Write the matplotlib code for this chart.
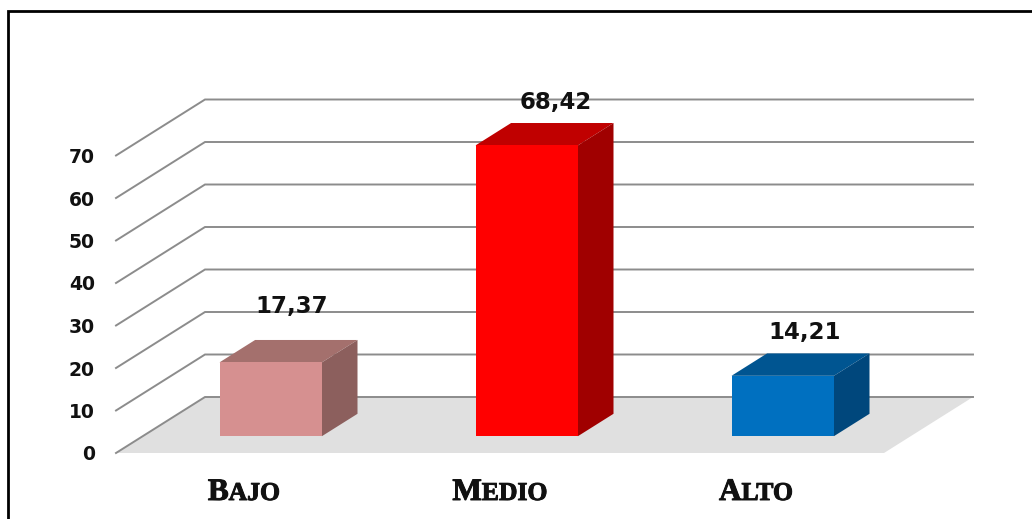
import matplotlib
matplotlib.use('Agg')
import matplotlib.pyplot as plt
import matplotlib.patheffects as pe
from matplotlib.lines import Line2D
from matplotlib.patches import Polygon

categories = ['Bajo', 'Medio', 'Alto']
values = [17.37, 68.42, 14.21]
value_labels = ['17,37', '68,42', '14,21']
ticks = [0, 10, 20, 30, 40, 50, 60, 70]

front_colors = ['#D69090', '#FF0000', '#0070C0']
top_colors = ['#A4706D', '#C00000', '#005591']
side_colors = ['#8C5F5D', '#A00000', '#00477C']

# pixel nudges for the value labels, measured from the top back edge of each bar
label_dx = [-15, -7, -14]
label_dy = [22, 9, 9]

W, H = 1032, 519
PX_X = 256.0      # pixels per category
PX_Y = 4.25       # pixels per unit of value
X0, Y0 = 116, 453  # front corner of the floor
DEPTH_X, DEPTH_Y = 89, 56  # on-screen shift from front to back wall
BAR_W = 0.4
BAR_D0, BAR_D1 = 0.30, 0.70

fig = plt.figure(figsize=(W / 100, H / 100), dpi=100)
ax = fig.add_axes([0, 0, 1, 1])
# front plane of the box: x in categories, y in value units
ax.set_xlim(-0.5 - X0 / PX_X, -0.5 + (W - X0) / PX_X)
ax.set_ylim(-(H - Y0) / PX_Y, Y0 / PX_Y)
ax.axis('off')


def proj(x, v, d=0.0):
    # oblique projection, d is depth from front (0) to back wall (1)
    return x + d * DEPTH_X / PX_X, v + d * DEPTH_Y / PX_Y


def poly(points, **kw):
    ax.add_patch(Polygon([proj(*p) for p in points], closed=True, **kw))


x_lo, x_hi = -0.5, len(categories) - 0.5

# floor
poly([(x_lo, 0, 0), (x_lo, 0, 1), (x_hi, 0, 1), (x_hi, 0, 0)],
     facecolor='#E0E0E0', edgecolor='none', zorder=1)

# gridlines along side wall and back wall
for t in ticks:
    pts = [proj(x_lo, t, 0), proj(x_lo, t, 1), proj(x_hi, t, 1)]
    ax.plot([p[0] for p in pts], [p[1] for p in pts], color='#8C8C8C', lw=1.4,
            solid_joinstyle='miter', zorder=2)
    tx, ty = proj(x_lo - 0.09 + 2 / PX_X, t)
    ax.text(tx, ty - 2 / PX_Y, str(t), ha='right', va='center', fontsize=13.5,
            fontweight='bold', color='#111111', zorder=5)

# bars
for i, v in enumerate(values):
    l, r = i - BAR_W / 2, i + BAR_W / 2
    poly([(l, v, BAR_D0), (l, v, BAR_D1), (r, v, BAR_D1), (r, v, BAR_D0)],
         facecolor=top_colors[i], edgecolor='none', zorder=3)
    poly([(r, 0, BAR_D0), (r, 0, BAR_D1), (r, v, BAR_D1), (r, v, BAR_D0)],
         facecolor=side_colors[i], edgecolor='none', zorder=3)
    poly([(l, 0, BAR_D0), (r, 0, BAR_D0), (r, v, BAR_D0), (l, v, BAR_D0)],
         facecolor=front_colors[i], edgecolor='none', zorder=4)
    cx, cy = proj(i, v, BAR_D1)
    ax.text(cx + label_dx[i] / PX_X, cy + label_dy[i] / PX_Y, value_labels[i],
            ha='center', va='bottom', fontsize=16.5, fontweight='bold',
            color='#111111', zorder=6)

# category names in small caps: big initial, smaller rest
fig.canvas.draw()
renderer = fig.canvas.get_renderer()
label_y = (Y0 - 500) / PX_Y
heavy = [pe.withStroke(linewidth=0.7, foreground='#111111')]
for i, name in enumerate(categories):
    first = ax.text(0, label_y, name[0], fontsize=22.5, family='Liberation Serif',
                    fontweight='bold', color='#111111', va='baseline', zorder=6,
                    path_effects=heavy)
    rest = ax.text(0, label_y, name[1:].upper(), fontsize=18.5, family='Liberation Serif',
                   fontweight='bold', color='#111111', va='baseline', zorder=6,
                   path_effects=heavy)
    w1 = first.get_window_extent(renderer).width / PX_X
    w2 = rest.get_window_extent(renderer).width / PX_X
    left = i - (w1 + w2) / 2
    first.set_x(left)
    rest.set_x(left + w1)

# outer frame: only the left and top edges fall inside the canvas
fig.add_artist(Line2D([8 / W, 8 / W, 1], [0, 1 - 11 / H, 1 - 11 / H], color='black',
                      lw=2, solid_joinstyle='miter'))

fig.savefig('out.png', dpi=100)
